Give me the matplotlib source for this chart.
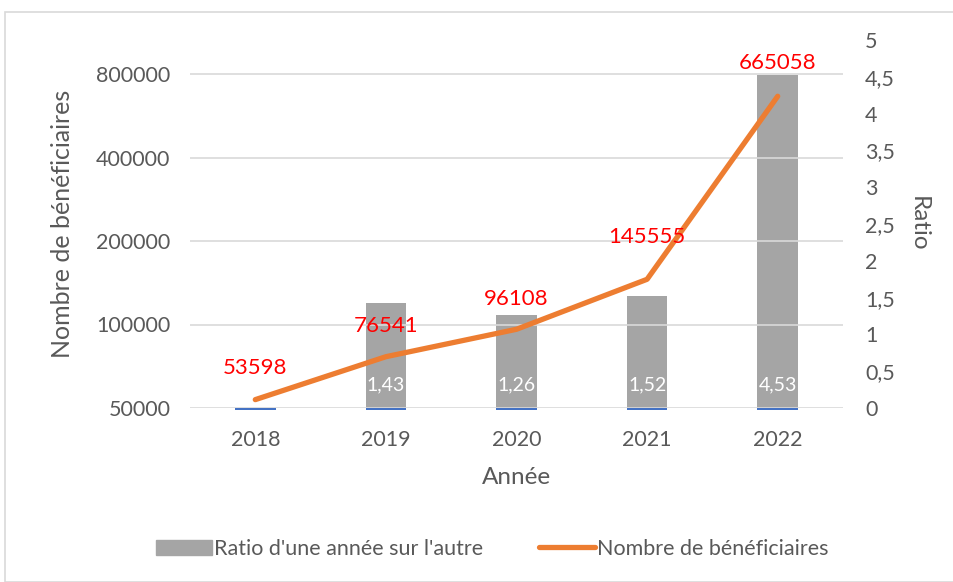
import matplotlib.pyplot as plt
from matplotlib.ticker import FixedLocator, NullLocator, FuncFormatter
from matplotlib.patches import Rectangle

years = ["2018", "2019", "2020", "2021", "2022"]
beneficiaires = [53598, 76541, 96108, 145555, 665058]
ratios = [None, 1.43, 1.26, 1.52, 4.53]
ratio_labels = ["", "1,43", "1,26", "1,52", "4,53"]
left_ticks = [50000, 100000, 200000, 400000, 800000]
right_ticks = [0, 0.5, 1, 1.5, 2, 2.5, 3, 3.5, 4, 4.5, 5]

plt.rcParams["font.family"] = ["Lato", "DejaVu Sans"]
grey_txt = "#595959"

fig = plt.figure(figsize=(9.54, 5.82), dpi=100)
fig.patches.append(Rectangle((5 / 954, 0), 1, 1 - 12 / 582, transform=fig.transFigure,
                             fill=False, edgecolor="#D9D9D9", lw=1.2))

ax = fig.add_axes([190 / 954, 1 - 408 / 582, (843 - 190) / 954, (408 - 40) / 582])
ax2 = ax.twinx()
ax.set_zorder(ax2.get_zorder() + 1)
ax.patch.set_visible(False)

x = list(range(len(years)))

# bars on the right axis
for i, r in enumerate(ratios):
    if r is not None:
        ax2.bar(i, r, width=0.31, color="#A5A5A5", zorder=2)
        ax2.text(i, 0.31, ratio_labels[i], ha="center", va="center", color="white", fontsize=14)
    ax2.bar(i, -0.03, width=0.31, color="#4472C4", zorder=3, clip_on=False)
ax2.set_ylim(0, 5)
ax2.yaxis.set_major_locator(FixedLocator(right_ticks))
ax2.yaxis.set_major_formatter(FuncFormatter(lambda v, p: ("%g" % v).replace(".", ",")))
ax2.set_ylabel("Ratio", rotation=-90, labelpad=24, fontsize=17.5, color=grey_txt)

# line on the left (log) axis
ax.plot(x, beneficiaires, color="#ED7D31", lw=3.8, solid_capstyle="round", zorder=5)
ax.set_yscale("log", base=2)
ax.set_ylim(50000, 50000 * 2 ** (368 / 83.5))
ax.yaxis.set_major_locator(FixedLocator(left_ticks))
ax.yaxis.set_minor_locator(NullLocator())
ax.yaxis.set_major_formatter(FuncFormatter(lambda v, p: "%d" % v))
ax.set_xlim(-0.5, 4.5)
ax.set_xticks(x)
ax.set_xticklabels(years)
ax.grid(axis="y", color="#D9D9D9", lw=1.2, zorder=0)
ax.set_ylabel("Nombre de bénéficiaires", fontsize=18, color=grey_txt, labelpad=16)
ax.set_xlabel("Année", fontsize=17.5, color=grey_txt, labelpad=12)

label_offsets = [32, 31, 30, 42, 33]
for i, v in enumerate(beneficiaires):
    ax.annotate(str(v), (i, v), xytext=(0, label_offsets[i]), textcoords="offset pixels",
                ha="center", va="center", color="red", fontsize=16, zorder=6)

for a in (ax, ax2):
    for s in a.spines.values():
        s.set_visible(False)
    a.tick_params(length=0, labelsize=15.5, colors=grey_txt, pad=14)
ax.tick_params(axis="x", pad=16)
ax2.tick_params(axis="y", pad=16)

handles = [Rectangle((0, 0), 1, 1, color="#A5A5A5"),
           plt.Line2D([0], [0], color="#ED7D31", lw=3.8, solid_capstyle="round")]
fig.legend(handles, ["Ratio d'une année sur l'autre", "Nombre de bénéficiaires"],
           loc="center", bbox_to_anchor=(492 / 954, 1 - 549 / 582), ncol=2, frameon=False,
           fontsize=15.5, labelcolor=grey_txt, handlelength=2.6, handletextpad=0.1,
           columnspacing=2.6)

fig.savefig("out.png", dpi=100)
